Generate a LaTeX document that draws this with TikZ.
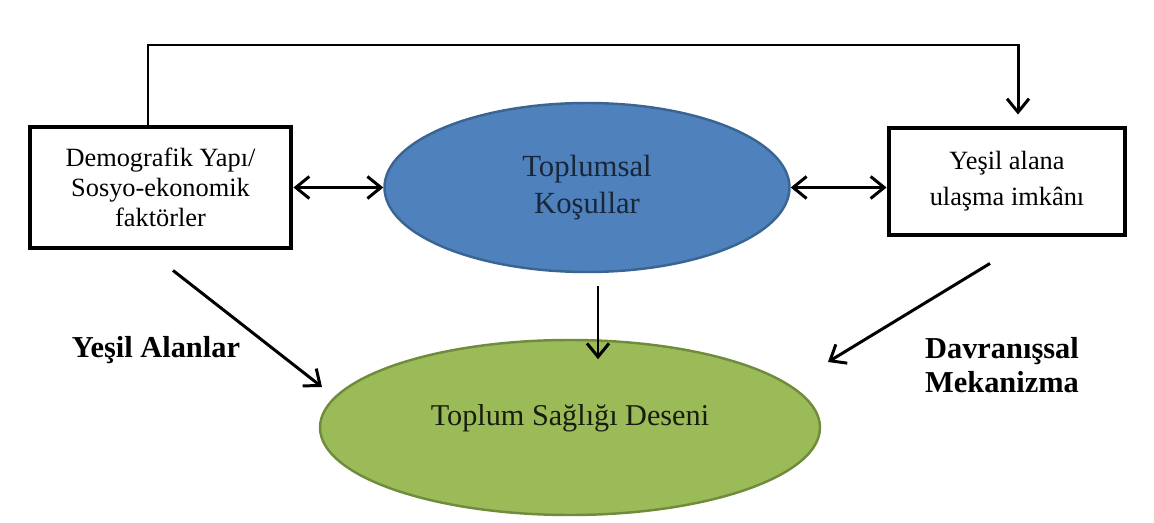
\documentclass[tikz,border=0pt]{standalone}
\usepackage{fontspec}
\setmainfont{Liberation Serif}
\usetikzlibrary{shapes.geometric,arrows.meta}
\definecolor{kutublue}{HTML}{4F81BD}
\definecolor{kutublueline}{HTML}{3A6592}
\definecolor{yesilfill}{HTML}{9BBB59}
\definecolor{yesilline}{HTML}{6F8C3C}
\begin{document}
\begin{tikzpicture}[
  kutu/.style={draw, line width=2.8pt, align=center, inner sep=0pt},
  elips/.style={ellipse, line width=1.4pt, inner sep=0pt, align=center},
  ok/.style={line width=1.7pt, -{Straight Barb[length=0.27cm,width=0.44cm,line width=1.7pt]}},
  cift/.style={ok, {Straight Barb[length=0.27cm,width=0.44cm,line width=1.7pt]}-{Straight Barb[length=0.27cm,width=0.44cm,line width=1.7pt]}},
  etiket/.style={font=\fontsize{17.3}{19.5}\selectfont\bfseries, align=center}]
\useasboundingbox (0,0) rectangle (23.08,10.44);
\node[kutu, minimum width=5.22cm, minimum height=2.42cm, font=\fontsize{15}{17.2}\selectfont] (demog) at (3.21,6.69) {Demografik Yapı/\\Sosyo-ekonomik\\faktörler};
\node[kutu, minimum width=4.72cm, minimum height=2.14cm, font=\fontsize{15}{20.4}\selectfont] (yesil) at (20.14,6.81) {Yeşil alana\\ulaşma imkânı};
\node[elips, draw=kutublueline, fill=kutublue, minimum width=8.1cm, minimum height=3.38cm, text=black!70!kutublue, font=\fontsize{17.5}{21.5}\selectfont] (toplumsal) at (11.74,6.69) {Toplumsal\\Koşullar};
\node[elips, draw=yesilline, fill=yesilfill, minimum width=10cm, minimum height=3.5cm, label={[yshift=0.19cm, text=black!85!yesilfill, font=\fontsize{17.2}{20}\selectfont]center:Toplum Sağlığı Deseni}] (saglik) at (11.4,1.89) {};
\coordinate (ust) at (11.7,9.54);
\draw[ok] ([xshift=-0.25cm]demog.north) |- (ust) -| ([xshift=0.22cm,yshift=0.22cm]yesil.north);
\draw[cift] (demog.east) -- (toplumsal.west);
\draw[cift] (toplumsal.east) -- (toplumsal.east -| yesil.west);
\draw[ok] ([xshift=0.22cm,yshift=-0.26cm]toplumsal.south) -- ++(0,-1.46);
\draw[ok] ([xshift=0.25cm,yshift=-0.4cm]demog.south) -- ([xshift=-4.96cm,yshift=0.81cm]saglik.center);
\draw[ok] ([xshift=-0.34cm,yshift=-0.52cm]yesil.south) -- ([xshift=5.16cm,yshift=1.31cm]saglik.center);
\node[etiket] (yalan) at (3.12,3.44) {Yeşil Alanlar};
\node[etiket] (davr) at (20.04,3.14) {Davranışsal\\Mekanizma};
\end{tikzpicture}
\end{document}
